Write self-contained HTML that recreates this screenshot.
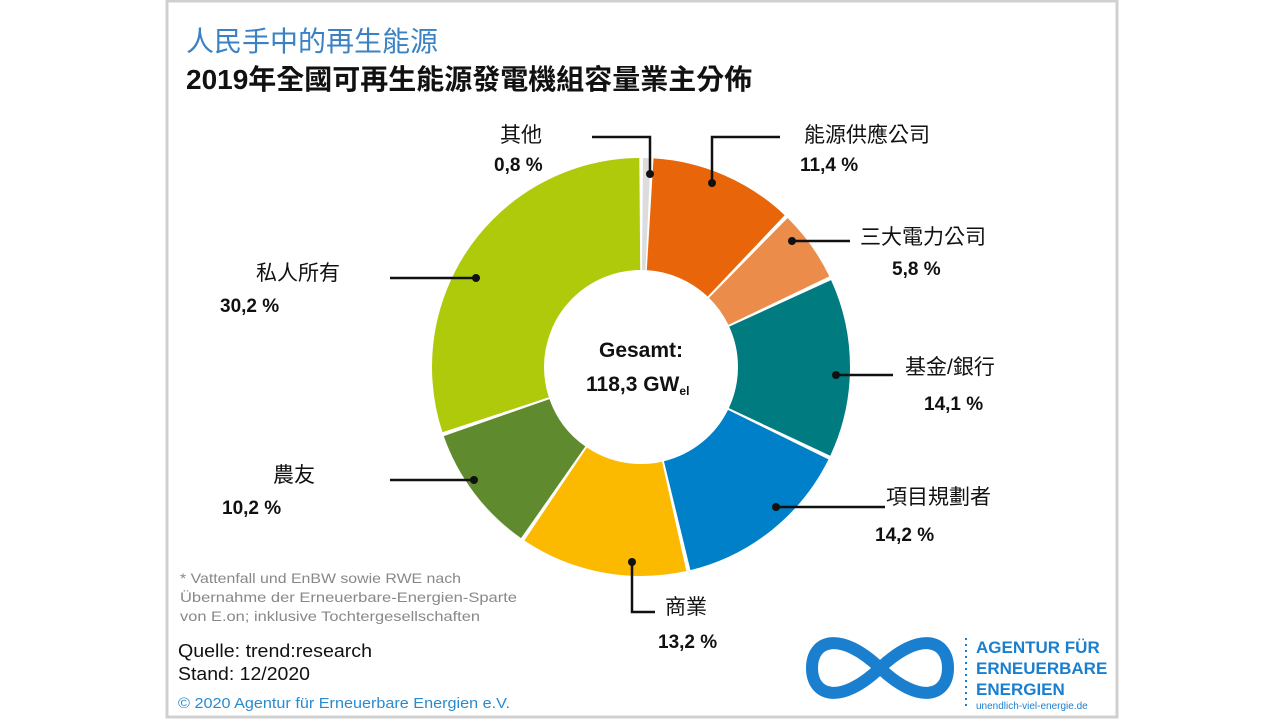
<!DOCTYPE html>
<html><head><meta charset="utf-8"><style>
body{margin:0;width:1280px;height:720px;background:#fff;overflow:hidden;font-family:"Liberation Sans","Noto Sans CJK TC",sans-serif;}
</style></head><body>
<svg width="1280" height="720" viewBox="0 0 1280 720" xmlns="http://www.w3.org/2000/svg" font-family="Liberation Sans, Noto Sans CJK TC, sans-serif">
<rect x="167" y="1" width="950" height="716" fill="#fff" stroke="#d0d0d0" stroke-width="3"/>
<text x="186" y="51" font-size="28" fill="#3a82c4">人民手中的再生能源</text>
<text x="186" y="89" font-size="28" fill="#111" font-weight="bold">2019年全國可再生能源發電機組容量業主分佈</text>
<g transform="rotate(-90 641 367)" fill="none" stroke-width="112">
<circle cx="641" cy="367" r="153" stroke="#dcdcdc" stroke-dasharray="5.6 2000" stroke-dashoffset="-1.5"/>
<circle cx="641" cy="367" r="153" stroke="#e8650a" stroke-dasharray="106.7 2000" stroke-dashoffset="-9.2"/>
<circle cx="641" cy="367" r="153" stroke="#ec8c4a" stroke-dasharray="52.7 2000" stroke-dashoffset="-118.9"/>
<circle cx="641" cy="367" r="153" stroke="#007b80" stroke-dasharray="132.7 2000" stroke-dashoffset="-174.6"/>
<circle cx="641" cy="367" r="153" stroke="#0080c8" stroke-dasharray="133.6 2000" stroke-dashoffset="-310.3"/>
<circle cx="641" cy="367" r="153" stroke="#fbb900" stroke-dasharray="124 2000" stroke-dashoffset="-447"/>
<circle cx="641" cy="367" r="153" stroke="#5f8b2e" stroke-dasharray="95.1 2000" stroke-dashoffset="-574"/>
<circle cx="641" cy="367" r="153" stroke="#afca0b" stroke-dasharray="287.6 2000" stroke-dashoffset="-672.1"/>
</g>
<g stroke="#111" stroke-width="2.5" fill="none">
<polyline points="650,174 650,137 592,137"/>
<polyline points="712,183 712,137 780,137"/>
<polyline points="792,241 850,241"/>
<polyline points="836,375 893,375"/>
<polyline points="776,507 885,507"/>
<polyline points="632,562 632,612 655,612"/>
<polyline points="474,480 390,480"/>
<polyline points="476,278 390,278"/>
</g>
<g fill="#111"><circle cx="650" cy="174" r="4"/><circle cx="712" cy="183" r="4"/><circle cx="792" cy="241" r="4"/><circle cx="836" cy="375" r="4"/><circle cx="776" cy="507" r="4"/><circle cx="632" cy="562" r="4"/><circle cx="474" cy="480" r="4"/><circle cx="476" cy="278" r="4"/></g>
<g font-size="21" fill="#111">
<text x="500" y="142">其他</text><text x="494" y="171" font-weight="bold" font-size="19">0,8 %</text>
<text x="804" y="142">能源供應公司</text><text x="800" y="171" font-weight="bold" font-size="19">11,4 %</text>
<text x="860" y="244">三大電力公司</text><text x="892" y="275" font-weight="bold" font-size="19">5,8 %</text>
<text x="905" y="374">基金/銀行</text><text x="924" y="410" font-weight="bold" font-size="19">14,1 %</text>
<text x="886" y="504">項目規劃者</text><text x="875" y="541" font-weight="bold" font-size="19">14,2 %</text>
<text x="665" y="614">商業</text><text x="658" y="648" font-weight="bold" font-size="19">13,2 %</text>
<text x="273" y="482">農友</text><text x="222" y="514" font-weight="bold" font-size="19">10,2 %</text>
<text x="256" y="280">私人所有</text><text x="220" y="312" font-weight="bold" font-size="19">30,2 %</text>
</g>
<text x="641" y="357" text-anchor="middle" font-size="21" font-weight="bold" fill="#111">Gesamt:</text>
<text x="586" y="391" font-size="21" font-weight="bold" fill="#111">118,3 GW<tspan font-size="12" dy="4">el</tspan></text>
<g font-size="14" fill="#888"><text x="180" y="583" textLength="281" lengthAdjust="spacingAndGlyphs">* Vattenfall und EnBW sowie RWE nach</text><text x="180" y="602" textLength="337" lengthAdjust="spacingAndGlyphs">Übernahme der Erneuerbare-Energien-Sparte</text><text x="180" y="621" textLength="300" lengthAdjust="spacingAndGlyphs">von E.on; inklusive Tochtergesellschaften</text></g>
<text x="178" y="657" font-size="18" fill="#111" textLength="194" lengthAdjust="spacingAndGlyphs">Quelle: trend:research</text>
<text x="178" y="680" font-size="18" fill="#111" textLength="132" lengthAdjust="spacingAndGlyphs">Stand: 12/2020</text>
<text x="178" y="708" font-size="15" fill="#2a8ad0" textLength="332" lengthAdjust="spacingAndGlyphs">© 2020 Agentur für Erneuerbare Energien e.V.</text>
<path d="M880,668 C840,630 812,640 812,668 C812,696 840,706 880,668 C920,630 948,640 948,668 C948,696 920,706 880,668 Z" fill="none" stroke="#1a7fcf" stroke-width="12"/>
<line x1="966" y1="638" x2="966" y2="710" stroke="#1a7fcf" stroke-width="2" stroke-dasharray="2 4"/>
<g font-size="17" font-weight="bold" fill="#1a7fcf"><text x="976" y="653">AGENTUR FÜR</text><text x="976" y="674">ERNEUERBARE</text><text x="976" y="695">ENERGIEN</text></g>
<text x="976" y="709" font-size="10" fill="#1a7fcf">unendlich-viel-energie.de</text>
</svg>
</body></html>
